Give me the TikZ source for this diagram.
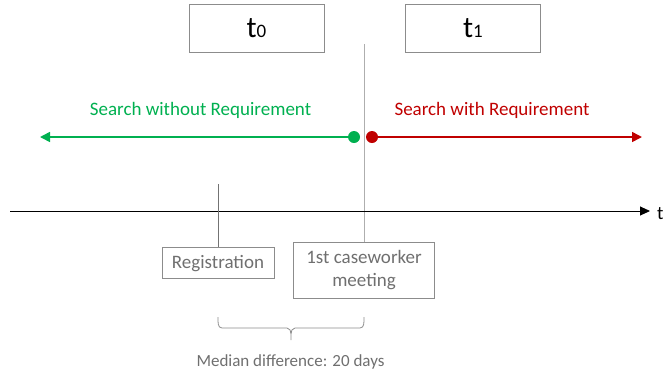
\documentclass[tikz,border=0pt]{standalone}
\usepackage{fontspec}
\setmainfont{Carlito}
\usetikzlibrary{arrows.meta}
\definecolor{grn}{HTML}{00B050}
\definecolor{rd}{HTML}{C00000}
\definecolor{txtgray}{HTML}{6F6F6F}
\definecolor{boxgray}{HTML}{8C8C8C}
\begin{document}
\begin{tikzpicture}[x=1pt,y=-1pt,
  tbox/.style={draw=boxgray,line width=0.8pt,minimum width=135pt,minimum height=48pt,inner sep=0pt,font=\fontsize{30}{32}\selectfont},
  ebox/.style={draw=boxgray,line width=0.8pt,text=txtgray,font=\fontsize{19}{23}\selectfont,align=center,inner sep=0pt},
  lbl/.style={font=\fontsize{19}{22}\selectfont,inner sep=0pt}]
\useasboundingbox (0,0) rectangle (664,376);
% period boxes
\node[tbox] (t0) at (256.5,28) {t{\fontsize{19}{20}\selectfont 0}};
\node[tbox] (t1) at (473,28) {t{\fontsize{19}{20}\selectfont 1}};
% divider
\coordinate (dtop) at (364,44);
% event boxes
\node[ebox,minimum width=112pt,minimum height=31pt,text depth=2pt] (reg) at (218,262.5) {Registration};
\node[ebox,minimum width=141pt,minimum height=56pt,text depth=3pt] (cw) at (364,270) {1st caseworker\\meeting};
\draw[boxgray!70,line width=0.8pt] (dtop) -- (cw.north);
% time axis
\coordinate (ax0) at (10,211);
\coordinate (ax1) at (650,211);
\node[lbl,anchor=west] (tl) at (657,214) {t};
\draw[line width=0.9pt,-{Triangle[length=10pt,width=9pt]}] (ax0) -- (ax1);
\coordinate (regtop) at (218,184);
\draw[gray!90!black,line width=0.8pt] (regtop) -- (reg.north);
% search periods
\node[circle,fill=grn,inner sep=0pt,minimum size=12pt] (gd) at (354,137) {};
\node[circle,fill=rd,inner sep=0pt,minimum size=12pt] (rdot) at (372,137) {};
\coordinate (gend) at (40,137);
\coordinate (rend) at (642,137);
\draw[grn,line width=1.6pt,-{Triangle[length=10pt,width=10pt]}] (gd) -- (gend);
\draw[rd,line width=1.6pt,-{Triangle[length=10pt,width=10pt]}] (rdot) -- (rend);
\node[lbl,text=grn] (gl) at (200.5,110) {Search without Requirement};
\node[lbl,text=rd] (rl) at (492,110) {Search with Requirement};
% interval brace
\coordinate (b0) at (218,317);
\coordinate (b1) at (364,317);
\coordinate (bm) at (291,340);
\draw[boxgray,line width=0.8pt]
  (b0) to[out=-90,in=180] (222,328) -- (287,328) to[out=0,in=90] (291,334) -- (bm)
  (b1) to[out=-90,in=0] (360,328) -- (295,328) to[out=180,in=90] (291,334);
\node[font=\fontsize{17}{19}\selectfont,text=txtgray] (md) at (290.5,362) {Median difference: 20 days};
\end{tikzpicture}
\end{document}
